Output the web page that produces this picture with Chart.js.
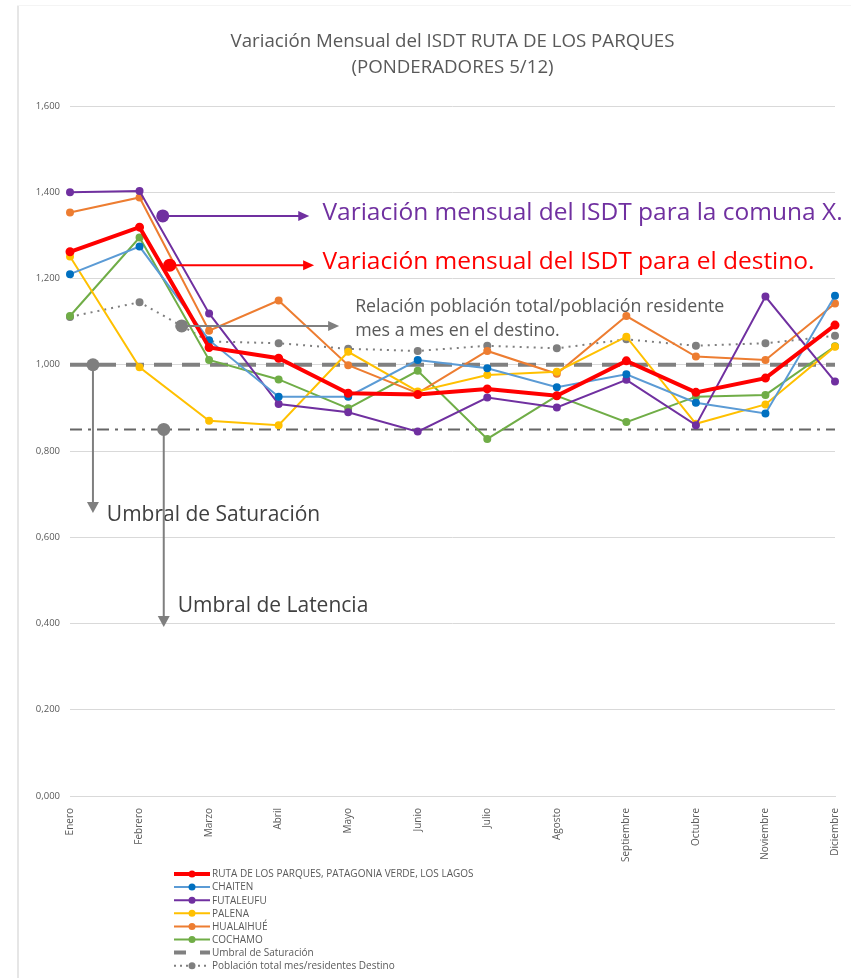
<!DOCTYPE html>
<html>
<head>
<meta charset="utf-8">
<script src="https://cdn.jsdelivr.net/npm/chart.js@4/dist/chart.umd.min.js"></script>
<style>
  html, body { margin: 0; padding: 0; background: #fff; }
  #wrap { position: relative; width: 851px; height: 978px; }
</style>
</head>
<body>
<div id="wrap"><canvas id="isdt" width="851" height="978"></canvas></div>
<script>
// meses del eje X
const meses = ['Enero', 'Febrero', 'Marzo', 'Abril', 'Mayo', 'Junio', 'Julio',
  'Agosto', 'Septiembre', 'Octubre', 'Noviembre', 'Diciembre'];

// valores
const rutaParques = [1.262, 1.319, 1.040, 1.015, 0.934, 0.931, 0.944, 0.928, 1.009, 0.936, 0.969, 1.092];
const chaiten     = [1.210, 1.274, 1.057, 0.926, 0.926, 1.011, 0.992, 0.948, 0.978, 0.912, 0.887, 1.160];
const futaleufu   = [1.400, 1.403, 1.119, 0.909, 0.890, 0.845, 0.924, 0.901, 0.965, 0.860, 1.158, 0.961];
const palena      = [1.251, 0.994, 0.870, 0.860, 1.030, 0.938, 0.976, 0.984, 1.065, 0.863, 0.908, 1.042];
const hualaihue   = [1.353, 1.388, 1.079, 1.149, 0.999, 0.934, 1.032, 0.979, 1.113, 1.019, 1.011, 1.142];
const cochamo     = [1.113, 1.295, 1.011, 0.966, 0.899, 0.986, 0.828, 0.928, 0.867, 0.926, 0.930, 1.043];
const poblacion   = [1.111, 1.145, 1.054, 1.050, 1.037, 1.032, 1.044, 1.038, 1.059, 1.044, 1.050, 1.067];
const saturacion  = [1, 1, 1, 1, 1, 1, 1, 1, 1, 1, 1, 1];
const latencia    = [0.85, 0.85, 0.85, 0.85, 0.85, 0.85, 0.85, 0.85, 0.85, 0.85, 0.85, 0.85];

// ticks del eje Y
const yTicks = [0, 0.2, 0.4, 0.6, 0.8, 1.0, 1.2, 1.4, 1.6];

const titulo = ['Variación Mensual del ISDT RUTA DE LOS PARQUES', '(PONDERADORES 5/12)'];

// notas sobre el grafico (x = indice de mes, y = valor)
const notasH = [
  { color: '#7030A0', x0: 1.334, x1: 3.44, y: 1.345, tx: 3.63, lines: ['Variación mensual del ISDT para la comuna X.'], size: 24.5 },
  { color: '#FF0000', x0: 1.434, x1: 3.51, y: 1.231, tx: 3.63, lines: ['Variación mensual del ISDT para el destino.'], size: 24.5 },
  { color: '#7F7F7F', x0: 1.606, x1: 3.87, y: 1.090, tx: 4.10, lines: ['Relación población total/población residente', 'mes a mes en el destino.'], size: 17.8, text: '#595959' }
];
const notasV = [
  { x: 0.33, y0: 1.0, y1: 0.656, tx: 0.53, ty: 0.652, label: 'Umbral de Saturación' },
  { x: 1.348, y0: 0.85, y1: 0.392, tx: 1.55, ty: 0.441, label: 'Umbral de Latencia' }
];

const FONT = '"Open Sans", "Noto Sans", sans-serif';

function serie(label, data, color, extra) {
  return Object.assign({
    label: label,
    data: data,
    borderColor: color,
    backgroundColor: color,
    pointBackgroundColor: color,
    pointBorderColor: color,
    borderWidth: 2,
    pointRadius: 3,
    pointHoverRadius: 3,
    tension: 0,
    fill: false
  }, extra || {});
}

const datasets = [
  serie('RUTA DE LOS PARQUES, PATAGONIA VERDE, LOS LAGOS', rutaParques, '#FF0000', { borderWidth: 4, pointRadius: 2.5 }),
  serie('CHAITEN', chaiten, '#5B9BD5', { pointBackgroundColor: '#0070C0', pointBorderColor: '#0070C0' }),
  serie('FUTALEUFU', futaleufu, '#7030A0'),
  serie('PALENA', palena, '#FFC000'),
  serie('HUALAIHUÉ', hualaihue, '#ED7D31'),
  serie('COCHAMO', cochamo, '#70AD47'),
  serie('Umbral de Saturación', saturacion, '#808080', { borderWidth: 4, borderDash: [18, 10], pointRadius: 0 }),
  serie('Población total mes/residentes Destino', poblacion, '#7F7F7F', { borderDash: [2, 5], borderWidth: 2 }),
  serie('Umbral de Latencia', latencia, '#666666', { borderWidth: 2, borderDash: [12, 6, 3, 6], pointRadius: 0, enLeyenda: false })
];

const notasPlugin = {
  id: 'notas',
  afterDatasetsDraw(chart) {
    const ctx = chart.ctx;
    const xs = chart.scales.x, ys = chart.scales.y;
    ctx.save();
    notasH.forEach(n => {
      const px0 = xs.getPixelForValue(n.x0), px1 = xs.getPixelForValue(n.x1), py = ys.getPixelForValue(n.y);
      ctx.strokeStyle = n.color; ctx.fillStyle = n.color; ctx.lineWidth = 2;
      ctx.beginPath(); ctx.moveTo(px0, py); ctx.lineTo(px1 - 8, py); ctx.stroke();
      ctx.beginPath(); ctx.moveTo(px1, py); ctx.lineTo(px1 - 11, py - 5); ctx.lineTo(px1 - 11, py + 5); ctx.closePath(); ctx.fill();
      ctx.beginPath(); ctx.arc(px0, py, 6.5, 0, Math.PI * 2); ctx.fill();
      ctx.fillStyle = n.text || n.color;
      ctx.font = n.size + 'px ' + FONT;
      ctx.textBaseline = 'middle'; ctx.textAlign = 'left';
      const tx = xs.getPixelForValue(n.tx);
      if (n.lines.length === 1) {
        ctx.fillText(n.lines[0], tx, py - 3);
      } else {
        ctx.fillText(n.lines[0], tx, py - 19);
        ctx.fillText(n.lines[1], tx, py + 5);
      }
    });
    notasV.forEach(n => {
      const px = xs.getPixelForValue(n.x), py0 = ys.getPixelForValue(n.y0), py1 = ys.getPixelForValue(n.y1);
      ctx.strokeStyle = '#7F7F7F'; ctx.fillStyle = '#7F7F7F'; ctx.lineWidth = 2;
      ctx.beginPath(); ctx.moveTo(px, py0); ctx.lineTo(px, py1 - 8); ctx.stroke();
      ctx.beginPath(); ctx.moveTo(px, py1); ctx.lineTo(px - 6, py1 - 11); ctx.lineTo(px + 6, py1 - 11); ctx.closePath(); ctx.fill();
      ctx.beginPath(); ctx.arc(px, py0, 6.5, 0, Math.PI * 2); ctx.fill();
      ctx.fillStyle = '#404040';
      ctx.font = '21px ' + FONT;
      ctx.textBaseline = 'middle'; ctx.textAlign = 'left';
      ctx.fillText(n.label, xs.getPixelForValue(n.tx), ys.getPixelForValue(n.ty));
    });
    ctx.restore();
  },
  afterDraw(chart) {
    const ctx = chart.ctx;
    const area = chart.chartArea;
    ctx.save();
    // marco izquierdo
    ctx.fillStyle = '#e6e6e6';
    ctx.fillRect(17, 5, 2, 973);
    ctx.fillStyle = '#f4f4f4';
    ctx.fillRect(17, 5, 834, 1);
    // titulo
    ctx.fillStyle = '#595959';
    ctx.font = '18.7px ' + FONT;
    ctx.textAlign = 'center'; ctx.textBaseline = 'middle';
    const cx = (area.left + area.right) / 2;
    ctx.fillText(titulo[0], cx, 42);
    ctx.fillText(titulo[1], cx, 68);
    // leyenda
    let y = 874;
    ctx.font = '10px ' + FONT;
    ctx.textAlign = 'left';
    chart.data.datasets.forEach(ds => {
      if (ds.enLeyenda === false) return;
      ctx.strokeStyle = ds.borderColor;
      ctx.lineWidth = ds.borderWidth;
      if (ds.borderDash) ctx.setLineDash(ds.label.startsWith('Umbral') ? [12, 14] : [2, 4]); else ctx.setLineDash([]);
      ctx.beginPath(); ctx.moveTo(174, y); ctx.lineTo(210, y); ctx.stroke();
      ctx.setLineDash([]);
      if (ds.pointRadius > 0) {
        ctx.fillStyle = ds.pointBackgroundColor;
        ctx.beginPath(); ctx.arc(192, y, 3.5, 0, Math.PI * 2); ctx.fill();
      }
      ctx.fillStyle = '#595959';
      ctx.fillText(ds.label, 212, y + 0.5);
      y += 13.1;
    });
    ctx.restore();
  }
};

new Chart(document.getElementById('isdt').getContext('2d'), {
  type: 'line',
  data: { labels: meses, datasets: datasets },
  plugins: [notasPlugin],
  options: {
    responsive: false,
    animation: false,
    events: [],
    layout: { padding: { left: 20, right: 14, top: 106, bottom: 112 } },
    plugins: {
      legend: { display: false },
      title: { display: false },
      tooltip: { enabled: false }
    },
    scales: {
      x: {
        offset: false,
        grid: { display: false },
        border: { color: '#d9d9d9' },
        ticks: {
          autoSkip: false, minRotation: 90, maxRotation: 90,
          color: '#595959', font: { family: FONT, size: 10 }, padding: 4
        },
        afterFit: s => { s.height = 70; }
      },
      y: {
        min: 0, max: 1.6,
        afterBuildTicks: s => { s.ticks = yTicks.map(v => ({ value: v })); },
        grid: { color: '#d9d9d9', drawTicks: false },
        border: { display: false },
        ticks: {
          color: '#595959', font: { family: FONT, size: 9.5 }, padding: 10,
          callback: v => v.toFixed(3).replace('.', ',')
        },
        afterFit: s => { s.width = 50; }
      }
    }
  }
});
</script>
</body>
</html>
